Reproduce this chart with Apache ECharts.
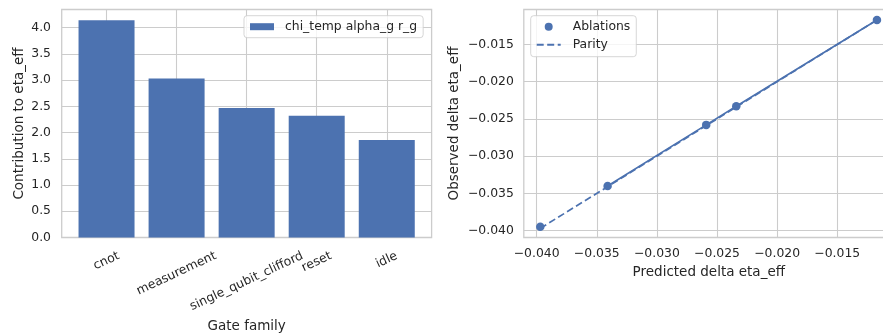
<!DOCTYPE html>
<html><head><meta charset="utf-8">
<script src="https://cdn.jsdelivr.net/npm/echarts@6/dist/echarts.min.js"></script>
<style>html,body{margin:0;padding:0;background:#fff}#c{width:883px;height:333px}</style>
</head><body><div id="c"></div>
<script>
// ---- data ----
const categories = ['cnot', 'measurement', 'single_qubit_clifford', 'reset', 'idle'];
const contributions = [4.14, 3.03, 2.47, 2.32, 1.86];
const contribTicks = [0, 0.5, 1.0, 1.5, 2.0, 2.5, 3.0, 3.5, 4.0];
const predicted = [-0.0397, -0.0341, -0.0259, -0.0234, -0.0117];
const observed = [-0.0395, -0.0340, -0.0258, -0.0233, -0.0117];
const deltaTicks = [-0.040, -0.035, -0.030, -0.025, -0.020, -0.015];
const barSeriesName = 'chi_temp alpha_g r_g';

// ---- style ----
const FONT = 'DejaVu Sans';
const TXT = '#262626';
const GRIDC = '#cccccc';
const BLUE = '#4C72B0';
const TICK_FS = 12.4;
const LABEL_FS = 13.5;
const ROT = 25;

const ctx = document.createElement('canvas').getContext('2d');
ctx.font = TICK_FS + 'px "' + FONT + '"';
const rad = ROT * Math.PI / 180;
const LH = 1.164 * TICK_FS;
const rich = {};
categories.forEach((c, i) => {
  const w = ctx.measureText(c).width;
  const bh = w * Math.sin(rad) + LH * Math.cos(rad);
  const d = bh / 2;
  rich['c' + i] = {
    fontFamily: FONT, fontSize: TICK_FS, color: TXT,
    padding: [2 * d * Math.cos(rad), 2 * d * Math.sin(rad), 0, 0]
  };
});

const fmtDelta = v => (v < 0 ? '\u2212' : '') + Math.abs(v).toFixed(3);
const tickLabel = {fontFamily: FONT, fontSize: TICK_FS, color: TXT};
const nameStyle = {fontFamily: FONT, fontSize: LABEL_FS, color: TXT};
const split = {show: true, lineStyle: {color: GRIDC, width: 1.1}};

const lo = Math.min(...predicted, ...observed);
const hi = Math.max(...predicted, ...observed);

const chart = echarts.init(document.getElementById('c'), null, {renderer: 'canvas'});
chart.setOption({
  animation: false,
  backgroundColor: '#ffffff',
  textStyle: {fontFamily: FONT},
  grid: [
    {left: 61.7, top: 9.5, width: 369.9, height: 228, show: true, borderColor: GRIDC, borderWidth: 1.3, containLabel: false, outerBoundsMode: 'none'},
    {left: 523.8, top: 9.5, width: 370, height: 228, show: true, borderColor: GRIDC, borderWidth: 1.3, containLabel: false, outerBoundsMode: 'none'}
  ],
  xAxis: [
    {
      type: 'value', gridIndex: 0, min: -0.64, max: 4.64,
      axisLine: {show: false},
      axisTick: {show: false, customValues: categories.map((c, i) => i)},
      splitLine: split,
      axisLabel: {
        customValues: categories.map((c, i) => i),
        rotate: ROT, align: 'center', verticalAlign: 'middle', margin: 11.2,
        formatter: v => { const i = Math.round(v); return '{c' + i + '|' + categories[i] + '}'; },
        rich: rich, fontFamily: FONT, fontSize: TICK_FS, color: TXT
      },
      name: 'Gate family', nameLocation: 'middle', nameGap: 79.5, nameTextStyle: nameStyle
    },
    {
      type: 'value', gridIndex: 1, min: -0.04107, max: -0.0103,
      axisLine: {show: false},
      axisTick: {show: false, customValues: deltaTicks},
      splitLine: split,
      axisLabel: Object.assign({customValues: deltaTicks, formatter: fmtDelta, margin: 10.5}, tickLabel),
      name: 'Predicted delta eta_eff', nameLocation: 'middle', nameGap: 27.6, nameTextStyle: nameStyle
    }
  ],
  yAxis: [
    {
      type: 'value', gridIndex: 0, min: 0, max: 4.347,
      axisLine: {show: false},
      axisTick: {show: false, customValues: contribTicks},
      splitLine: split,
      axisLabel: Object.assign({customValues: contribTicks, formatter: v => v.toFixed(1), margin: 10.7}, tickLabel),
      name: 'Contribution to eta_eff', nameLocation: 'middle', nameGap: 35.5, nameRotate: 90, nameTextStyle: nameStyle
    },
    {
      type: 'value', gridIndex: 1, min: -0.04093, max: -0.0103,
      axisLine: {show: false},
      axisTick: {show: false, customValues: deltaTicks},
      splitLine: split,
      axisLabel: Object.assign({customValues: deltaTicks, formatter: fmtDelta, margin: 10}, tickLabel),
      name: 'Observed delta eta_eff', nameLocation: 'middle', nameGap: 62, nameRotate: 90, nameTextStyle: nameStyle
    }
  ],
  legend: [
    {
      data: [{name: barSeriesName, icon: 'rect'}],
      left: 244, top: 15.7, padding: [4, 6, 4, 6],
      itemWidth: 24, itemHeight: 7,
      backgroundColor: 'rgba(255,255,255,0.8)', borderColor: 'rgba(204,204,204,0.8)', borderWidth: 1, borderRadius: 3,
      textStyle: {fontFamily: FONT, fontSize: TICK_FS, color: TXT, lineHeight: 14, padding: [0, 0, 0, 6]},
      selectedMode: false
    },
    {
      data: [{name: 'Ablations', icon: 'circle'}, {name: 'Parity', itemStyle: {opacity: 0}}],
      orient: 'vertical', left: 530.7, top: 15.7, padding: [4, 6, 5, 5], itemGap: 4,
      itemWidth: 24, itemHeight: 8,
      backgroundColor: 'rgba(255,255,255,0.8)', borderColor: 'rgba(204,204,204,0.8)', borderWidth: 1, borderRadius: 3,
      textStyle: {fontFamily: FONT, fontSize: TICK_FS, color: TXT, lineHeight: 14, padding: [0, 0, 0, 7]},
      selectedMode: false
    }
  ],
  series: [
    {
      name: barSeriesName, type: 'bar', xAxisIndex: 0, yAxisIndex: 0,
      data: categories.map((c, i) => [i, contributions[i]]),
      barWidth: 56, itemStyle: {color: BLUE}
    },
    {
      name: 'Ablation trend', type: 'line', xAxisIndex: 1, yAxisIndex: 1,
      data: predicted.slice(1).map((p, i) => [p, observed[i + 1]]),
      symbol: 'none', lineStyle: {color: BLUE, width: 1.7}, itemStyle: {color: BLUE}, z: 2
    },
    {
      name: 'Parity', type: 'line', xAxisIndex: 1, yAxisIndex: 1,
      data: [[lo, lo], [hi, hi]],
      symbol: 'none', lineStyle: {color: BLUE, width: 1.7, type: [7, 3.5]}, itemStyle: {color: BLUE}, z: 3
    },
    {
      name: 'Ablations', type: 'scatter', xAxisIndex: 1, yAxisIndex: 1,
      data: predicted.map((p, i) => [p, observed[i]]),
      symbolSize: 8.5, itemStyle: {color: BLUE, opacity: 1}, z: 4
    }
  ]
});
</script></body></html>
